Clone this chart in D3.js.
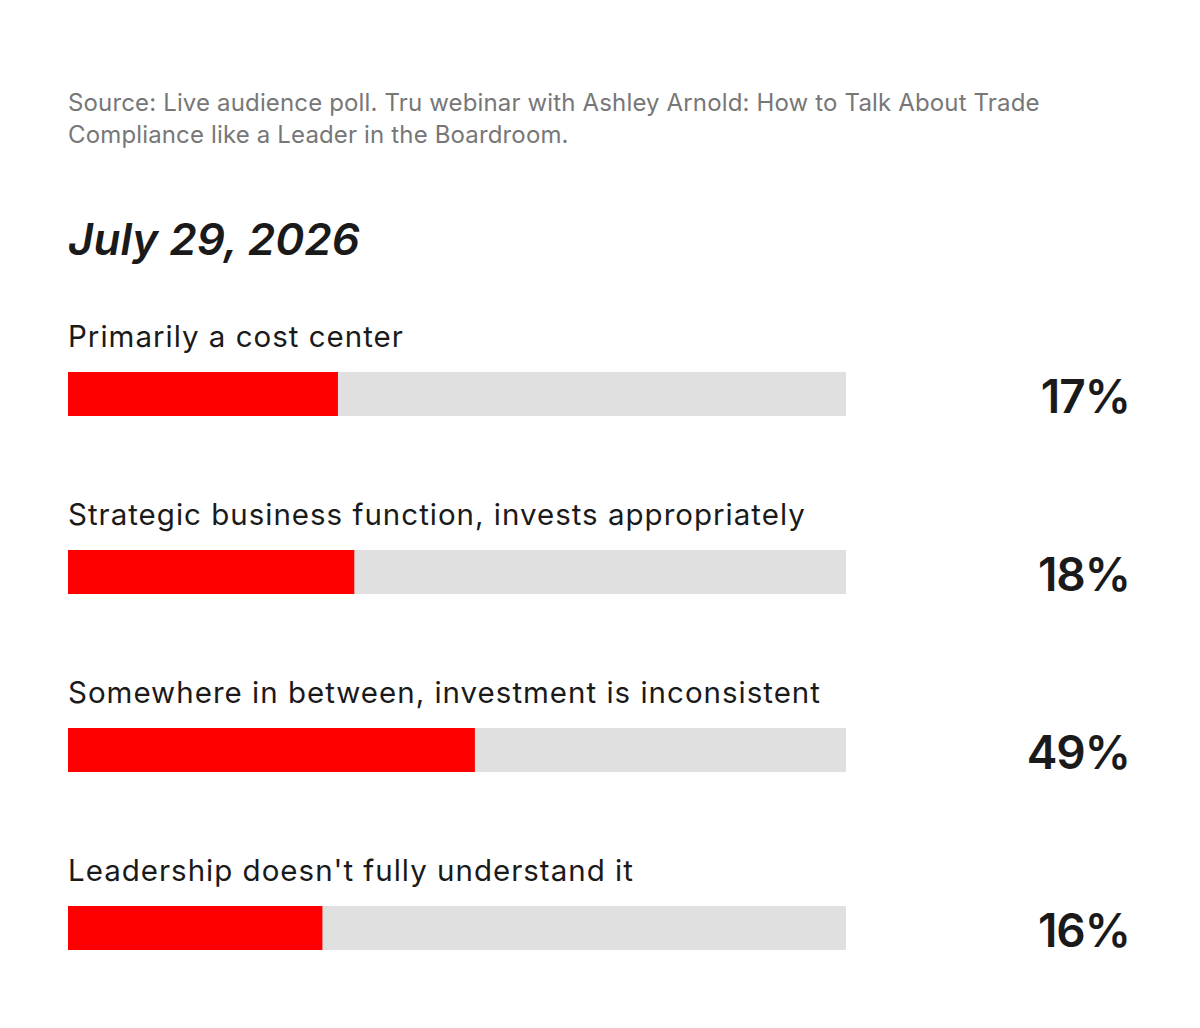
<!DOCTYPE html>
<html>
<head>
<meta charset="utf-8">
<script src="https://cdn.jsdelivr.net/npm/d3@7"></script>
<style>
  body { margin: 0; background: #fff; }
  svg { display: block; font-family: Inter, "Noto Sans", sans-serif; }
</style>
</head>
<body>
<svg id="chart" width="1200" height="1028"></svg>
<script>
var sourceLines = [
  "Source: Live audience poll. Tru webinar with Ashley Arnold: How to Talk About Trade",
  "Compliance like a Leader in the Boardroom."
];
var title = "July 29, 2026";
var answers = [
  "Primarily a cost center",
  "Strategic business function, invests appropriately",
  "Somewhere in between, investment is inconsistent",
  "Leadership doesn't fully understand it"
];
var pct = [17, 18, 49, 16];
// share of the grey track that is red
var barFill = [34.7, 36.8, 52.3, 32.7];

var svg = d3.select("#chart");
var left = 68, right = 846;

var x = d3.scaleLinear().domain([0, 100]).range([left, right]);
var y = d3.scaleBand().domain(d3.range(answers.length)).range([310, 1022]).paddingInner(0);

svg.selectAll("text.src").data(sourceLines).enter().append("text")
  .attr("class", "src")
  .attr("x", left)
  .attr("y", 111)
  .attr("dy", function(d, i) { return i * 32; })
  .attr("fill", "#777")
  .attr("font-size", 24)
  .attr("letter-spacing", 0.15)
  .text(function(d) { return d; });

svg.append("text")
  .attr("x", left)
  .attr("y", 255)
  .attr("fill", "#1a1a1a")
  .attr("font-size", 44)
  .attr("font-weight", 600)
  .attr("font-style", "italic")
  .text(title);

var rows = svg.selectAll("g.row").data(answers).enter().append("g")
  .attr("class", "row")
  .attr("transform", function(d, i) { return "translate(0," + y(i) + ")"; });

rows.append("text")
  .attr("x", left)
  .attr("y", 37)
  .attr("fill", "#1a1a1a")
  .attr("font-size", 29.5)
  .attr("letter-spacing", 1)
  .text(function(d) { return d; });

rows.append("rect")
  .attr("x", x(0))
  .attr("y", 62)
  .attr("width", x(100) - x(0))
  .attr("height", 44)
  .attr("fill", "#e0e0e0");

rows.append("rect")
  .attr("x", x(0))
  .attr("y", 62)
  .attr("width", function(d, i) { return x(barFill[i]) - x(0); })
  .attr("height", 44)
  .attr("fill", "#ff0000");

rows.append("text")
  .attr("x", 1130)
  .attr("y", 103)
  .attr("text-anchor", "end")
  .attr("fill", "#1a1a1a")
  .attr("font-size", 46)
  .attr("font-weight", 600)
  .attr("letter-spacing", -1)
  .text(function(d, i) { return pct[i] + "%"; });
</script>
</body>
</html>
